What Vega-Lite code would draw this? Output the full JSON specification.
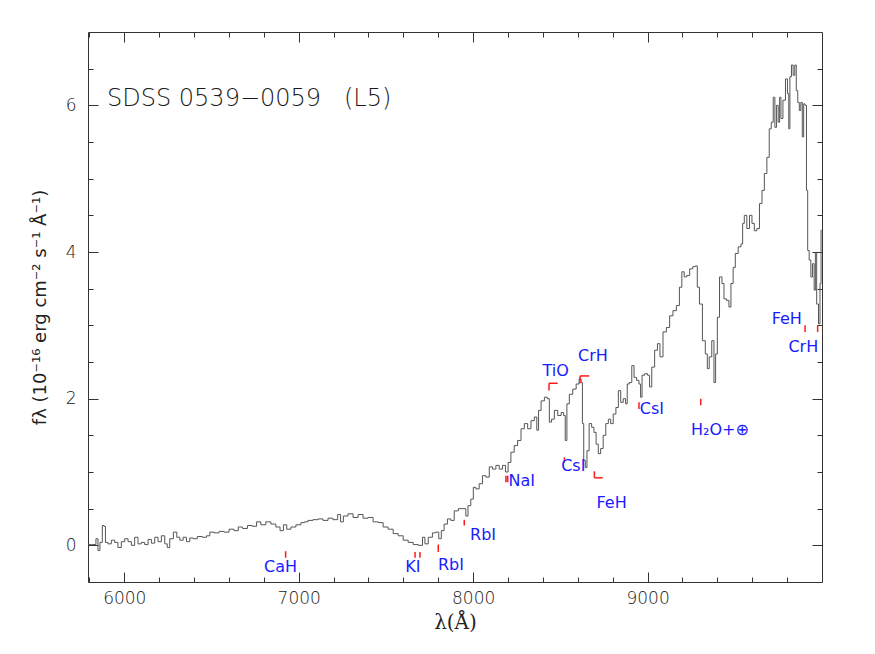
{
  "$schema": "https://vega.github.io/schema/vega-lite/v6.json",
  "width": 734,
  "height": 550,
  "autosize": {"type": "none"},
  "padding": {"left": 88, "top": 32, "right": 53, "bottom": 72},
  "background": "white",
  "config": {
    "view": {"stroke": "#333333", "strokeWidth": 1},
    "axis": {"domain": false, "grid": false, "tickColor": "#333333", "tickWidth": 1, "labelFont": "DejaVu Sans", "labelFontWeight": 200, "labelColor": "#1a1a1a", "labelFontSize": 17, "titleFontWeight": "normal", "titleColor": "#222222"}
  },
  "datasets": {
    "spectrum": [
      {"w":5792,"f":0.01},{"w":5830,"f":0.01},{"w":5845,"f":0.09},{"w":5853,"f":-0.07},{"w":5868,"f":0.04},{"w":5880,"f":0.27},{"w":5887,"f":0.26},{"w":5897,"f":0.04},{"w":5916,"f":0.02},{"w":5935,"f":0.07},{"w":5954,"f":0.04},{"w":5973,"f":-0.03},{"w":5993,"f":0.05},{"w":6012,"f":0.09},{"w":6031,"f":0.05},{"w":6050,"f":0.0},{"w":6069,"f":0.11},{"w":6088,"f":0.02},{"w":6107,"f":0.04},{"w":6127,"f":0.01},{"w":6146,"f":0.08},{"w":6165,"f":0.03},{"w":6184,"f":0.11},{"w":6203,"f":0.05},{"w":6222,"f":0.13},{"w":6242,"f":0.02},{"w":6251,"f":-0.03},{"w":6270,"f":0.09},{"w":6293,"f":0.18},{"w":6309,"f":0.11},{"w":6328,"f":0.07},{"w":6347,"f":0.11},{"w":6366,"f":0.05},{"w":6385,"f":0.1},{"w":6404,"f":0.09},{"w":6433,"f":0.12},{"w":6462,"f":0.11},{"w":6481,"f":0.13},{"w":6500,"f":0.18},{"w":6529,"f":0.17},{"w":6558,"f":0.19},{"w":6586,"f":0.18},{"w":6615,"f":0.22},{"w":6644,"f":0.2},{"w":6663,"f":0.25},{"w":6692,"f":0.23},{"w":6720,"f":0.27},{"w":6749,"f":0.26},{"w":6768,"f":0.32},{"w":6797,"f":0.28},{"w":6826,"f":0.32},{"w":6855,"f":0.29},{"w":6883,"f":0.25},{"w":6903,"f":0.2},{"w":6922,"f":0.28},{"w":6941,"f":0.22},{"w":6970,"f":0.25},{"w":6998,"f":0.28},{"w":7027,"f":0.31},
      {"w":7039,"f":0.32},{"w":7067,"f":0.34},{"w":7096,"f":0.35},{"w":7125,"f":0.36},{"w":7154,"f":0.34},{"w":7182,"f":0.37},{"w":7211,"f":0.35},{"w":7236,"f":0.42},{"w":7244,"f":0.32},{"w":7268,"f":0.4},{"w":7297,"f":0.43},{"w":7326,"f":0.38},{"w":7355,"f":0.42},{"w":7383,"f":0.37},{"w":7412,"f":0.38},{"w":7441,"f":0.32},{"w":7470,"f":0.31},{"w":7498,"f":0.25},{"w":7527,"f":0.22},{"w":7556,"f":0.16},{"w":7585,"f":0.13},{"w":7613,"f":0.07},{"w":7642,"f":0.04},{"w":7671,"f":0.01},{"w":7700,"f":0.0},{"w":7719,"f":0.11},{"w":7728,"f":0.02},{"w":7757,"f":0.11},{"w":7776,"f":0.17},{"w":7795,"f":0.18},{"w":7811,"f":0.09},{"w":7824,"f":0.2},{"w":7843,"f":0.29},{"w":7862,"f":0.36},{"w":7882,"f":0.34},{"w":7901,"f":0.47},{"w":7929,"f":0.5},{"w":7952,"f":0.5},{"w":7964,"f":0.4},{"w":7977,"f":0.54},{"w":7996,"f":0.63},
      {"w":8006,"f":0.79},{"w":8025,"f":0.77},{"w":8044,"f":0.84},{"w":8063,"f":0.95},{"w":8083,"f":0.93},{"w":8102,"f":1.07},{"w":8121,"f":1.04},{"w":8140,"f":1.09},{"w":8159,"f":1.04},{"w":8178,"f":1.09},{"w":8194,"f":1.0},{"w":8207,"f":1.13},{"w":8226,"f":1.27},{"w":8245,"f":1.36},{"w":8265,"f":1.43},{"w":8284,"f":1.59},{"w":8303,"f":1.66},{"w":8322,"f":1.59},{"w":8341,"f":1.7},{"w":8360,"f":1.75},{"w":8370,"f":1.57},{"w":8380,"f":1.84},{"w":8399,"f":1.97},{"w":8418,"f":2.02},{"w":8431,"f":2.0},{"w":8443,"f":1.68},{"w":8456,"f":1.72},{"w":8475,"f":1.84},{"w":8495,"f":1.77},{"w":8514,"f":1.81},{"w":8523,"f":1.77},{"w":8533,"f":1.43},{"w":8542,"f":1.93},{"w":8561,"f":2.06},{"w":8581,"f":2.13},{"w":8600,"f":2.2},{"w":8615,"f":2.27},{"w":8623,"f":2.22},{"w":8630,"f":1.66},{"w":8638,"f":1.16},{"w":8648,"f":1.06},{"w":8657,"f":1.29},{"w":8673,"f":1.66},{"w":8686,"f":1.61},{"w":8699,"f":1.54},{"w":8711,"f":1.38},{"w":8724,"f":1.25},{"w":8738,"f":1.32},{"w":8753,"f":1.5},{"w":8768,"f":1.66},{"w":8782,"f":1.72},{"w":8795,"f":1.66},{"w":8811,"f":1.79},{"w":8826,"f":1.88},{"w":8839,"f":2.11},{"w":8853,"f":1.95},{"w":8868,"f":2.0},{"w":8880,"f":1.93},{"w":8887,"f":2.2},{"w":8903,"f":2.22},{"w":8916,"f":2.45},{"w":8929,"f":2.29},{"w":8945,"f":2.25},{"w":8956,"f":2.2},{"w":8964,"f":2.02},{"w":8973,"f":2.32},{"w":8993,"f":2.34},{"w":9006,"f":2.32},{"w":9017,"f":2.16},{"w":9031,"f":2.43},{"w":9050,"f":2.66},{"w":9063,"f":2.75},{"w":9079,"f":2.57},{"w":9098,"f":2.91},{"w":9117,"f":2.97},{"w":9136,"f":3.13},{"w":9155,"f":3.2},{"w":9175,"f":3.27},{"w":9190,"f":3.52},{"w":9203,"f":3.73},{"w":9217,"f":3.66},{"w":9232,"f":3.68},{"w":9251,"f":3.77},{"w":9267,"f":3.8},{"w":9280,"f":3.81},{"w":9290,"f":3.52},{"w":9305,"f":3.29},
      {"w":9324,"f":2.79},{"w":9338,"f":2.61},{"w":9347,"f":2.41},{"w":9360,"f":2.57},{"w":9376,"f":2.79},{"w":9385,"f":2.22},{"w":9395,"f":2.61},{"w":9405,"f":3.11},{"w":9420,"f":3.66},
      {"w":9433,"f":3.57},{"w":9443,"f":3.36},{"w":9462,"f":3.34},{"w":9471,"f":3.25},{"w":9485,"f":3.57},{"w":9496,"f":3.79},{"w":9510,"f":3.98},{"w":9529,"f":4.07},{"w":9542,"f":4.11},{"w":9548,"f":4.39},{"w":9561,"f":4.5},{"w":9577,"f":4.32},{"w":9592,"f":4.5},{"w":9605,"f":4.39},{"w":9619,"f":4.29},{"w":9634,"f":4.32},{"w":9649,"f":4.66},{"w":9663,"f":4.84},{"w":9676,"f":5.07},{"w":9692,"f":5.29},{"w":9703,"f":5.68},{"w":9715,"f":5.77},{"w":9726,"f":6.11},{"w":9734,"f":5.7},{"w":9745,"f":6.0},{"w":9753,"f":5.77},{"w":9761,"f":6.11},{"w":9768,"f":5.82},{"w":9784,"f":6.07},{"w":9797,"f":6.36},{"w":9807,"f":6.16},{"w":9812,"f":5.68},{"w":9820,"f":6.39},{"w":9830,"f":6.55},{"w":9839,"f":6.41},{"w":9849,"f":6.55},{"w":9856,"f":6.2},{"w":9866,"f":6.04},{"w":9874,"f":5.93},{"w":9883,"f":6.04},{"w":9891,"f":5.57},{"w":9899,"f":6.02},{"w":9908,"f":6.0},{"w":9914,"f":4.84},{"w":9922,"f":4.02},{"w":9931,"f":3.89},{"w":9941,"f":3.66},{"w":9950,"f":3.84},{"w":9960,"f":3.48},{"w":9964,"f":3.98},{"w":9975,"f":3.29},{"w":9985,"f":3.02},{"w":9992,"f":3.57},{"w":9997,"f":4.3}
    ],
    "marks": [
      {"x":6925,"x2":6925,"y":-0.08,"y2":-0.17},
      {"x":7667,"x2":7667,"y":-0.09,"y2":-0.17},
      {"x":7695,"x2":7695,"y":-0.09,"y2":-0.17},
      {"x":7800,"x2":7800,"y":0.01,"y2":-0.09},
      {"x":7949,"x2":7949,"y":0.35,"y2":0.27},
      {"x":8188,"x2":8188,"y":0.95,"y2":0.86},
      {"x":8198,"x2":8198,"y":0.95,"y2":0.86},
      {"x":8435,"x2":8435,"y":2.21,"y2":2.11},
      {"x":8435,"x2":8485,"y":2.21,"y2":2.21},
      {"x":8613,"x2":8613,"y":2.31,"y2":2.21},
      {"x":8613,"x2":8666,"y":2.31,"y2":2.31},
      {"x":8523,"x2":8523,"y":1.2,"y2":1.13},
      {"x":8695,"x2":8695,"y":1.01,"y2":0.92},
      {"x":8695,"x2":8743,"y":0.92,"y2":0.92},
      {"x":8951,"x2":8951,"y":1.95,"y2":1.86},
      {"x":9305,"x2":9305,"y":2.0,"y2":1.91},
      {"x":9903,"x2":9903,"y":3.0,"y2":2.91},
      {"x":9975,"x2":9975,"y":3.0,"y2":2.91}
    ],
    "labels": [
      {"x":6896,"y":-0.3,"t":"CaH"},
      {"x":7655,"y":-0.3,"t":"KI"},
      {"x":7873,"y":-0.27,"t":"RbI"},
      {"x":8057,"y":0.14,"t":"RbI"},
      {"x":8279,"y":0.88,"t":"NaI"},
      {"x":8473,"y":2.38,"t":"TiO"},
      {"x":8687,"y":2.58,"t":"CrH"},
      {"x":8574,"y":1.08,"t":"CsI"},
      {"x":8794,"y":0.58,"t":"FeH"},
      {"x":9025,"y":1.86,"t":"CsI"},
      {"x":9415,"y":1.57,"t":"H₂O+⊕"},
      {"x":9798,"y":3.09,"t":"FeH"},
      {"x":9893,"y":2.7,"t":"CrH"}
    ],
    "title": [
      {"x":5901,"y":6.08,"t":"SDSS 0539−0059\u00a0\u00a0\u00a0(L5)"}
    ]
  },
  "resolve": {"axis": {"x": "independent", "y": "independent"}},
  "layer": [
    {
      "data": {"name": "spectrum"},
      "mark": {"type": "line", "interpolate": "step", "color": "#555555", "strokeWidth": 1, "clip": true},
      "encoding": {
        "x": {"field": "w", "type": "quantitative", "scale": {"domain": [5792, 10000], "nice": false, "zero": false},
              "axis": {"orient": "bottom", "values": [6000, 7000, 8000, 9000], "format": "d", "tickSize": -10, "labelPadding": 18, "title": "λ(Å)", "titleFont": "DejaVu Serif", "titleFontSize": 20, "titlePadding": 6}},
        "y": {"field": "f", "type": "quantitative", "scale": {"domain": [-0.5, 7], "nice": false, "zero": false},
              "axis": {"orient": "left", "values": [0, 2, 4, 6], "format": "d", "tickSize": -10, "labelPadding": 22, "title": "fλ (10⁻¹⁶ erg cm⁻² s⁻¹ Å⁻¹)", "titleFont": "DejaVu Sans", "titleFontSize": 18, "titlePadding": 16}}
      }
    },
    {
      "data": {"name": "marks"},
      "mark": {"type": "rule", "color": "#ff1a1a", "strokeWidth": 1.5},
      "encoding": {
        "x": {"field": "x", "type": "quantitative", "scale": {"domain": [5792, 10000], "nice": false, "zero": false},
              "axis": {"orient": "bottom", "values": [5800,6000,6200,6400,6600,6800,7000,7200,7400,7600,7800,8000,8200,8400,8600,8800,9000,9200,9400,9600,9800], "tickSize": -5, "labels": false, "title": null}},
        "x2": {"field": "x2"},
        "y": {"field": "y", "type": "quantitative", "scale": {"domain": [-0.5, 7], "nice": false, "zero": false},
              "axis": {"orient": "left", "values": [0,0.5,1,1.5,2,2.5,3,3.5,4,4.5,5,5.5,6,6.5], "tickSize": -5, "labels": false, "title": null}},
        "y2": {"field": "y2"}
      }
    },
    {
      "data": {"name": "labels"},
      "mark": {"type": "text", "color": "#1a1aff", "font": "DejaVu Sans", "fontSize": 16, "align": "center", "baseline": "middle"},
      "encoding": {
        "x": {"field": "x", "type": "quantitative", "scale": {"domain": [5792, 10000], "nice": false, "zero": false},
              "axis": {"orient": "top", "values": [6000, 7000, 8000, 9000], "tickSize": -10, "labels": false, "title": null}},
        "y": {"field": "y", "type": "quantitative", "scale": {"domain": [-0.5, 7], "nice": false, "zero": false},
              "axis": {"orient": "right", "values": [0, 2, 4, 6], "tickSize": -10, "labels": false, "title": null}},
        "text": {"field": "t"}
      }
    },
    {
      "data": {"name": "title"},
      "mark": {"type": "text", "color": "#1a1a1a", "font": "DejaVu Sans", "fontWeight": 200, "fontSize": 24, "align": "left", "baseline": "middle"},
      "encoding": {
        "x": {"field": "x", "type": "quantitative", "scale": {"domain": [5792, 10000], "nice": false, "zero": false},
              "axis": {"orient": "top", "values": [5800,6000,6200,6400,6600,6800,7000,7200,7400,7600,7800,8000,8200,8400,8600,8800,9000,9200,9400,9600,9800], "tickSize": -5, "labels": false, "title": null}},
        "y": {"field": "y", "type": "quantitative", "scale": {"domain": [-0.5, 7], "nice": false, "zero": false},
              "axis": {"orient": "right", "values": [0,0.5,1,1.5,2,2.5,3,3.5,4,4.5,5,5.5,6,6.5], "tickSize": -5, "labels": false, "title": null}},
        "text": {"field": "t"}
      }
    }
  ]
}
